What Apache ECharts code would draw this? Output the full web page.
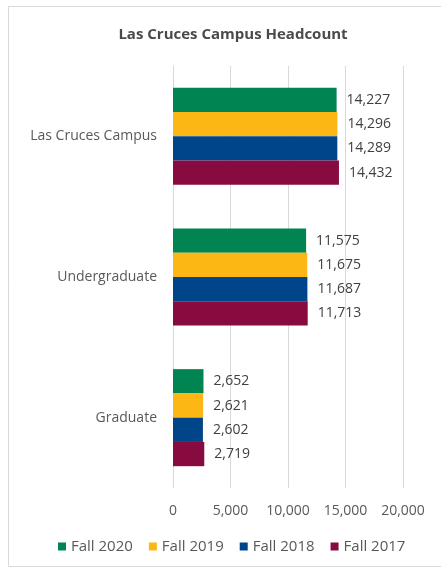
<!DOCTYPE html>
<html>
<head>
<meta charset="utf-8">
<script src="https://cdn.jsdelivr.net/npm/echarts@6/dist/echarts.min.js"></script>
<style>
html,body{margin:0;padding:0;background:#fff;}
#chart{width:441px;height:573px;}
</style>
</head>
<body>
<div id="chart"></div>
<script>
const categories = ['Las Cruces Campus', 'Undergraduate', 'Graduate'];
const seriesNames = ['Fall 2020', 'Fall 2019', 'Fall 2018', 'Fall 2017'];
const fall2020 = [14227, 11575, 2652];
const fall2019 = [14296, 11675, 2621];
const fall2018 = [14289, 11687, 2602];
const fall2017 = [14432, 11713, 2719];
const xTicks = [0, 5000, 10000, 15000, 20000];
const colors = ['#008452', '#FDB714', '#00458A', '#880B40'];

const values = [fall2020, fall2019, fall2018, fall2017];
const fmt = v => String(v).replace(/\B(?=(\d{3})+(?!\d))/g, ',');
const font = '"Open Sans", "Liberation Sans", sans-serif';

const chart = echarts.init(document.getElementById('chart'), null, {renderer: 'canvas'});
chart.setOption({
  animation: false,
  backgroundColor: '#fff',
  textStyle: {fontFamily: font},
  title: {
    text: 'Las Cruces Campus Headcount',
    left: 228, top: 22, textAlign: 'center',
    textStyle: {fontFamily: font, fontSize: 15, fontWeight: 'bold', color: '#4a4a4a'}
  },
  graphic: [{
    type: 'rect', silent: true,
    shape: {x: 8.5, y: 6.5, width: 460, height: 560},
    style: {fill: 'none', stroke: '#d9d9d9', lineWidth: 1}
  }],
  legend: {
    data: seriesNames,
    left: 53, top: 534,
    itemWidth: 8, itemHeight: 8, itemGap: 16,
    icon: 'rect',
    textStyle: {fontFamily: font, fontSize: 15, color: '#595959'}
  },
  grid: {left: 173, right: 38, top: 66, bottom: 85, containLabel: false},
  xAxis: {
    type: 'value', min: xTicks[0], max: xTicks[xTicks.length - 1], interval: 5000,
    axisLine: {show: false}, axisTick: {show: false},
    splitLine: {lineStyle: {color: '#d9d9d9'}},
    axisLabel: {margin: 16, fontFamily: font, fontSize: 14, color: '#595959', formatter: v => fmt(v)}
  },
  yAxis: {
    type: 'category', data: categories, inverse: true,
    axisLine: {show: true, lineStyle: {color: '#d9d9d9'}}, axisTick: {show: false},
    axisLabel: {margin: 16, fontFamily: font, fontSize: 14, color: '#595959'}
  },
  series: seriesNames.map((n, i) => ({
    name: n, type: 'bar', data: values[i],
    barGap: '0%', barCategoryGap: '31%',
    itemStyle: {color: colors[i]},
    label: {show: true, position: 'right', distance: 10, fontFamily: font, fontSize: 14, color: '#404040', formatter: p => fmt(p.value)}
  }))
});
</script>
</body>
</html>
